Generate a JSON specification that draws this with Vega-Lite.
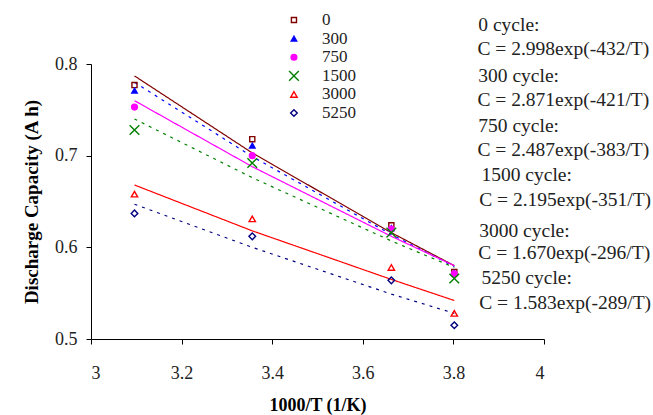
{
  "$schema": "https://vega.github.io/schema/vega-lite/v6.json",
  "width": 453,
  "height": 275,
  "autosize": {"type": "none"},
  "padding": {"left": 91, "top": 64, "right": 109, "bottom": 76},
  "background": "white",
  "config": {
    "view": {"stroke": null},
    "font": "Liberation Serif",
    "axis": {
      "grid": false,
      "domainColor": "black",
      "tickColor": "black",
      "domainWidth": 1,
      "tickWidth": 1,
      "labelColor": "#222",
      "titleColor": "black",
      "labelFont": "Liberation Serif",
      "titleFont": "Liberation Serif",
      "labelFontSize": 18,
      "titleFontSize": 18,
      "titleFontWeight": "bold",
      "tickSize": 5
    }
  },
  "datasets": {
    "points": [
      {"cycle": "0", "x": 3.096, "c": 0.777},
      {"cycle": "0", "x": 3.356, "c": 0.718},
      {"cycle": "0", "x": 3.663, "c": 0.624},
      {"cycle": "0", "x": 3.802, "c": 0.573},
      {"cycle": "300", "x": 3.096, "c": 0.771},
      {"cycle": "300", "x": 3.356, "c": 0.711},
      {"cycle": "300", "x": 3.663, "c": 0.621},
      {"cycle": "300", "x": 3.802, "c": 0.572},
      {"cycle": "750", "x": 3.096, "c": 0.753},
      {"cycle": "750", "x": 3.356, "c": 0.700},
      {"cycle": "750", "x": 3.663, "c": 0.620},
      {"cycle": "750", "x": 3.802, "c": 0.571},
      {"cycle": "1500", "x": 3.096, "c": 0.728},
      {"cycle": "1500", "x": 3.356, "c": 0.692},
      {"cycle": "1500", "x": 3.663, "c": 0.616},
      {"cycle": "1500", "x": 3.802, "c": 0.566},
      {"cycle": "3000", "x": 3.096, "c": 0.658},
      {"cycle": "3000", "x": 3.356, "c": 0.631},
      {"cycle": "3000", "x": 3.663, "c": 0.578},
      {"cycle": "3000", "x": 3.802, "c": 0.528},
      {"cycle": "5250", "x": 3.096, "c": 0.637},
      {"cycle": "5250", "x": 3.356, "c": 0.612},
      {"cycle": "5250", "x": 3.663, "c": 0.564},
      {"cycle": "5250", "x": 3.802, "c": 0.515}
    ],
    "fits": [
      {"cycle": "0", "x": 3.096, "c": 0.787},
      {"cycle": "0", "x": 3.356, "c": 0.703},
      {"cycle": "0", "x": 3.663, "c": 0.616},
      {"cycle": "0", "x": 3.802, "c": 0.580},
      {"cycle": "300", "x": 3.096, "c": 0.780},
      {"cycle": "300", "x": 3.356, "c": 0.699},
      {"cycle": "300", "x": 3.663, "c": 0.614},
      {"cycle": "300", "x": 3.802, "c": 0.579},
      {"cycle": "750", "x": 3.096, "c": 0.760},
      {"cycle": "750", "x": 3.356, "c": 0.688},
      {"cycle": "750", "x": 3.663, "c": 0.612},
      {"cycle": "750", "x": 3.802, "c": 0.580},
      {"cycle": "1500", "x": 3.096, "c": 0.740},
      {"cycle": "1500", "x": 3.356, "c": 0.676},
      {"cycle": "1500", "x": 3.663, "c": 0.607},
      {"cycle": "1500", "x": 3.802, "c": 0.578},
      {"cycle": "3000", "x": 3.096, "c": 0.668},
      {"cycle": "3000", "x": 3.356, "c": 0.618},
      {"cycle": "3000", "x": 3.663, "c": 0.565},
      {"cycle": "3000", "x": 3.802, "c": 0.542},
      {"cycle": "5250", "x": 3.096, "c": 0.647},
      {"cycle": "5250", "x": 3.356, "c": 0.600},
      {"cycle": "5250", "x": 3.663, "c": 0.549},
      {"cycle": "5250", "x": 3.802, "c": 0.528}
    ],
    "legend": [
      {"cycle": "0", "x": 3.448, "lx": 3.510, "c": 0.848},
      {"cycle": "300", "x": 3.448, "lx": 3.510, "c": 0.8277},
      {"cycle": "750", "x": 3.448, "lx": 3.510, "c": 0.8074},
      {"cycle": "1500", "x": 3.448, "lx": 3.510, "c": 0.7871},
      {"cycle": "3000", "x": 3.448, "lx": 3.510, "c": 0.7668},
      {"cycle": "5250", "x": 3.448, "lx": 3.510, "c": 0.7465}
    ],
    "notes": [
      {"label": "0 cycle:", "x": 3.855, "c": 0.8425},
      {"label": "C = 2.998exp(-432/T)", "x": 3.853, "c": 0.8164},
      {"label": "300 cycle:", "x": 3.855, "c": 0.7869},
      {"label": "C = 2.871exp(-421/T)", "x": 3.853, "c": 0.7607},
      {"label": "750 cycle:", "x": 3.855, "c": 0.7324},
      {"label": "C = 2.487exp(-383/T)", "x": 3.853, "c": 0.7062},
      {"label": "1500 cycle:", "x": 3.862, "c": 0.6789},
      {"label": "C = 2.195exp(-351/T)", "x": 3.857, "c": 0.6516},
      {"label": "3000 cycle:", "x": 3.857, "c": 0.6178},
      {"label": "C = 1.670exp(-296/T)", "x": 3.855, "c": 0.5938},
      {"label": "5250 cycle:", "x": 3.862, "c": 0.5666},
      {"label": "C = 1.583exp(-289/T)", "x": 3.857, "c": 0.5393}
    ]
  },
  "encoding": {
    "x": {
      "field": "x",
      "type": "quantitative",
      "scale": {"domain": [3, 4], "nice": false, "zero": false},
      "axis": {
        "title": "1000/T (1/K)",
        "values": [3, 3.2, 3.4, 3.6, 3.8, 4],
        "format": "~g",
        "labelPadding": 20,
        "titlePadding": 14
      }
    },
    "y": {
      "field": "c",
      "type": "quantitative",
      "scale": {"domain": [0.5, 0.8], "nice": false, "zero": false},
      "axis": {
        "title": "Discharge Capacity (A h)",
        "values": [0.5, 0.6, 0.7, 0.8],
        "format": ".1f",
        "labelPadding": 9,
        "titlePadding": 13,
        "titleFontSize": 19
      }
    }
  },
  "layer": [
    {
      "data": {"name": "fits"},
      "mark": {"type": "line", "strokeWidth": 1.2},
      "encoding": {
        "detail": {"field": "cycle", "type": "nominal"},
        "color": {
          "field": "cycle",
          "type": "nominal",
          "scale": {
            "domain": ["0", "300", "750", "1500", "3000", "5250"],
            "range": ["#800000", "#0000FF", "#FF00FF", "#008000", "#FF0000", "#000080"]
          },
          "legend": null
        },
        "strokeDash": {
          "field": "cycle",
          "type": "nominal",
          "scale": {
            "domain": ["0", "300", "750", "1500", "3000", "5250"],
            "range": [[1, 0], [3, 5], [1, 0], [3, 5], [1, 0], [3, 5]]
          },
          "legend": null
        }
      }
    },
    {
      "data": {"name": "points"},
      "mark": {"type": "point", "filled": false, "strokeWidth": 1.4, "opacity": 1},
      "encoding": {
        "shape": {
          "field": "cycle",
          "type": "nominal",
          "scale": {
            "domain": ["0", "300", "750", "1500", "3000", "5250"],
            "range": ["square", "triangle-up", "circle", "M-1.6,-1.6L1.6,1.6M-1.6,1.6L1.6,-1.6", "triangle-up", "diamond"]
          },
          "legend": null
        },
        "stroke": {
          "field": "cycle",
          "type": "nominal",
          "scale": {
            "domain": ["0", "300", "750", "1500", "3000", "5250"],
            "range": ["#800000", "#0000FF", "#FF00FF", "#008000", "#FF0000", "#000080"]
          },
          "legend": null
        },
        "fill": {
          "field": "cycle",
          "type": "nominal",
          "scale": {
            "domain": ["0", "300", "750", "1500", "3000", "5250"],
            "range": ["transparent", "#0000FF", "#FF00FF", "transparent", "transparent", "transparent"]
          },
          "legend": null
        },
        "size": {
          "field": "cycle",
          "type": "nominal",
          "scale": {
            "domain": ["0", "300", "750", "1500", "3000", "5250"],
            "range": [26, 44, 32, 60, 56, 40]
          },
          "legend": null
        }
      }
    },
    {
      "data": {"name": "legend"},
      "mark": {"type": "point", "filled": false, "strokeWidth": 1.4, "opacity": 1},
      "encoding": {
        "shape": {"field": "cycle", "type": "nominal", "legend": null},
        "stroke": {"field": "cycle", "type": "nominal", "legend": null},
        "fill": {"field": "cycle", "type": "nominal", "legend": null},
        "size": {"field": "cycle", "type": "nominal", "legend": null}
      }
    },
    {
      "data": {"name": "legend"},
      "mark": {"type": "text", "align": "left", "baseline": "middle", "fontSize": 17, "font": "Liberation Serif", "color": "#222"},
      "encoding": {
        "x": {"field": "lx", "type": "quantitative"},
        "text": {"field": "cycle", "type": "nominal"}
      }
    },
    {
      "data": {"name": "notes"},
      "mark": {"type": "text", "align": "left", "baseline": "middle", "fontSize": 19.5, "font": "Liberation Serif", "color": "#222"},
      "encoding": {
        "text": {"field": "label", "type": "nominal"}
      }
    }
  ]
}
